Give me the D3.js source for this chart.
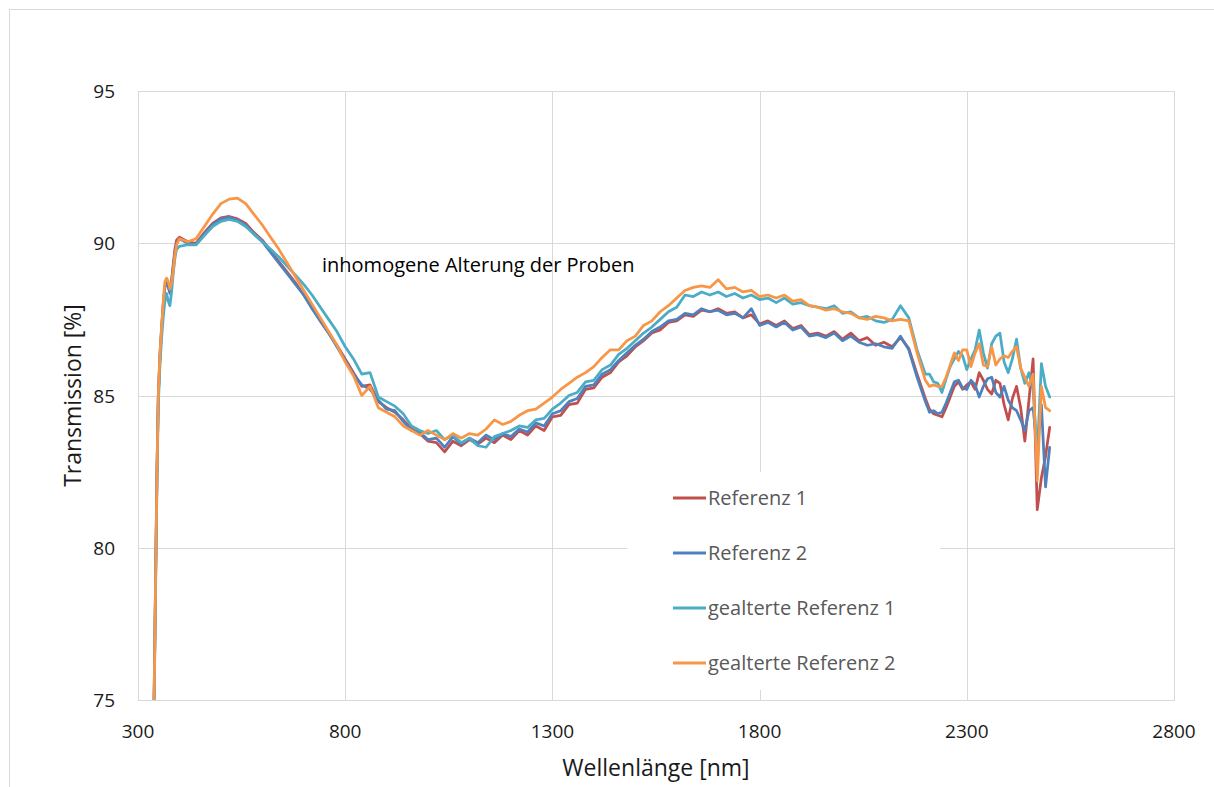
<!DOCTYPE html>
<html>
<head>
  <meta charset="utf-8">
  <script src="https://d3js.org/d3.v7.min.js"></script>
  <style type="text/css">
    body { margin: 0; background: #fff; }
    svg { font-family: "Open Sans", "Noto Sans", sans-serif; }
    .grid line { stroke: #d9d9d9; stroke-width: 1; }
    .tick-label { font-size: 19px; fill: #1a1a1a; }
    .axis-title { font-size: 23px; fill: #1a1a1a; }
    .legend-text { font-size: 20px; fill: #595959; }
  </style>
</head>
<body>
<svg id="chart" width="1214" height="787"></svg>

<script type="text/javascript">
// wavelengths [nm], shared by all four series
const wlStart = [338, 340, 343, 346, 349, 353, 357, 361, 365, 369, 373, 377, 381, 385, 389, 393];
const wlMain = [400, 420, 440, 460, 480, 500, 520, 540, 560, 580, 600, 620, 640, 660, 680, 700, 720, 740, 760, 780,
  800, 820, 840, 860, 880, 900, 920, 940, 960, 980, 1000, 1020, 1040, 1060, 1080, 1100, 1120, 1140, 1160, 1180,
  1200, 1220, 1240, 1260, 1280, 1300, 1320, 1340, 1360, 1380, 1400, 1420, 1440, 1460, 1480, 1500, 1520, 1540, 1560, 1580,
  1600, 1620, 1640, 1660, 1680, 1700, 1720, 1740, 1760, 1780, 1800, 1820, 1840, 1860, 1880, 1900, 1920, 1940, 1960, 1980,
  2000, 2020, 2040, 2060, 2080, 2100, 2120, 2140, 2160, 2180, 2200];
const wlTail = [2210, 2220, 2230, 2240, 2250, 2260, 2270, 2280, 2290, 2300, 2310, 2320, 2330, 2340, 2350,
  2360, 2370, 2380, 2390, 2400, 2410, 2420, 2430, 2440, 2450, 2460, 2470, 2480, 2490, 2500];
const wavelengths = wlStart.concat(wlMain, wlTail);

const referenz1 = [
  74.2, 76.3, 79.6, 82.7, 85.0, 86.3, 87.2, 88.0, 88.6, 88.7, 88.6, 88.4, 88.8, 89.3, 89.8, 90.1,
  90.2, 90.05, 90.0, 90.35, 90.65, 90.83, 90.88, 90.8, 90.65, 90.35, 90.1, 89.75, 89.4, 89.05, 88.7, 88.3, 87.9, 87.45, 87.05, 86.65,
  86.2, 85.75, 85.3, 85.35, 84.8, 84.6, 84.45, 84.2, 83.9, 83.75, 83.5, 83.45, 83.15, 83.5, 83.35, 83.55, 83.4, 83.6, 83.45, 83.7,
  83.55, 83.85, 83.7, 84.0, 83.85, 84.3, 84.35, 84.7, 84.75, 85.2, 85.25, 85.6, 85.75, 86.1, 86.3, 86.6, 86.8, 87.05, 87.15, 87.4,
  87.45, 87.65, 87.6, 87.8, 87.75, 87.85, 87.7, 87.75, 87.55, 87.65, 87.35, 87.45, 87.3, 87.45, 87.2, 87.3, 87.0, 87.05, 86.95, 87.1,
  86.85, 87.05, 86.8, 86.9, 86.65, 86.75, 86.6, 86.9, 86.55, 85.7, 84.9,
  84.55, 84.4, 84.35, 84.3, 84.6, 84.95, 85.3, 85.45, 85.2, 85.35, 85.45, 85.2, 85.75, 85.5, 85.2,
  85.05, 85.5, 85.4, 84.7, 84.2, 84.9, 85.3, 84.6, 83.5, 84.85, 86.2, 81.25, 82.3, 83.0, 83.95
];
const referenz2 = [
  74.2, 76.3, 79.6, 82.7, 85.0, 86.3, 87.2, 88.0, 88.6, 88.7, 88.55, 88.35, 88.7, 89.2, 89.7, 90.0,
  90.15, 90.0, 89.95, 90.3, 90.6, 90.8, 90.85, 90.75, 90.6, 90.3, 90.05, 89.7, 89.35, 89.0, 88.65, 88.3, 87.85, 87.45, 87.05, 86.6,
  86.15, 85.7, 85.35, 85.2, 84.85, 84.55, 84.5, 84.15, 83.85, 83.8, 83.55, 83.6, 83.3, 83.65, 83.4, 83.6, 83.45, 83.7, 83.55, 83.75,
  83.65, 83.9, 83.8, 84.1, 84.0, 84.4, 84.5, 84.8, 84.9, 85.3, 85.35, 85.7, 85.85, 86.15, 86.4, 86.65, 86.85, 87.1, 87.25, 87.45,
  87.5, 87.7, 87.65, 87.85, 87.75, 87.8, 87.65, 87.7, 87.55, 87.85, 87.3, 87.4, 87.25, 87.4, 87.15, 87.25, 86.95, 87.0, 86.9, 87.05,
  86.8, 86.95, 86.75, 86.65, 86.7, 86.6, 86.55, 86.95, 86.5, 85.6, 84.8,
  84.45, 84.5, 84.4, 84.45, 84.75, 85.1, 85.45, 85.5, 85.25, 85.2, 85.5, 85.35, 84.95, 85.3, 85.55,
  85.6, 85.1, 84.95, 85.3, 84.85, 84.6, 84.5, 84.2, 83.85, 84.5, 84.6, 83.2, 84.7, 82.0, 83.3
];
const gealterteReferenz1 = [
  74.0, 76.0, 79.2, 82.3, 84.7, 86.0, 86.9, 87.6, 88.1, 88.35, 88.1, 87.95, 88.4, 89.0, 89.5, 89.8,
  89.9, 89.95, 89.95, 90.25, 90.55, 90.72, 90.78, 90.72, 90.55, 90.3, 90.05, 89.8, 89.55, 89.25, 88.95, 88.65, 88.3, 87.9, 87.5, 87.1,
  86.6, 86.2, 85.7, 85.75, 84.95, 84.8, 84.65, 84.4, 84.0, 83.85, 83.75, 83.85, 83.55, 83.7, 83.45, 83.6, 83.35, 83.3, 83.65, 83.75,
  83.85, 84.0, 83.95, 84.2, 84.25, 84.55, 84.75, 85.0, 85.1, 85.45, 85.5, 85.85, 86.0, 86.35, 86.55, 86.8, 87.05, 87.25, 87.5, 87.75,
  87.9, 88.3, 88.25, 88.4, 88.3, 88.4, 88.25, 88.35, 88.2, 88.3, 88.15, 88.2, 88.05, 88.2, 88.0, 88.05, 87.95, 87.9, 87.85, 87.95,
  87.7, 87.75, 87.55, 87.6, 87.45, 87.4, 87.5, 87.95, 87.55, 86.5, 85.7,
  85.7, 85.45, 85.4, 85.1, 85.55, 85.95, 86.2, 86.45, 86.3, 85.85, 86.2, 86.5, 87.15, 86.4, 85.9,
  86.7, 86.95, 87.05, 86.1, 85.75, 86.2, 86.85, 85.9, 85.4, 85.75, 85.2, 83.0, 86.05, 85.3, 84.95
];
const gealterteReferenz2 = [
  74.2, 76.2, 79.5, 82.6, 85.0, 86.4, 87.3, 88.1, 88.75, 88.85, 88.75, 88.5, 88.7, 89.1, 89.6, 89.95,
  90.15, 90.05, 90.15, 90.55, 90.95, 91.3, 91.45, 91.48, 91.3, 90.95, 90.6, 90.2, 89.8, 89.35, 88.9, 88.45, 88.0, 87.55, 87.1, 86.65,
  86.1, 85.65, 85.0, 85.3, 84.6, 84.45, 84.3, 84.0, 83.85, 83.7, 83.85, 83.7, 83.55, 83.75, 83.6, 83.75, 83.7, 83.9, 84.2, 84.05,
  84.15, 84.35, 84.5, 84.55, 84.75, 84.95, 85.2, 85.4, 85.6, 85.75, 85.95, 86.25, 86.5, 86.5, 86.8, 86.95, 87.3, 87.45, 87.75, 87.95,
  88.2, 88.45, 88.55, 88.6, 88.55, 88.8, 88.5, 88.55, 88.4, 88.45, 88.25, 88.3, 88.2, 88.3, 88.1, 88.15, 87.95, 87.9, 87.8, 87.85,
  87.75, 87.7, 87.55, 87.5, 87.6, 87.55, 87.45, 87.5, 87.45, 86.4, 85.5,
  85.3, 85.35, 85.3, 85.3, 85.6, 86.0, 86.4, 86.15, 86.5, 86.5, 85.95, 86.4, 86.7, 86.0, 85.95,
  86.6, 86.0, 86.2, 86.3, 86.25, 86.45, 86.6, 85.9, 85.6, 85.3, 85.7, 82.2, 85.3, 84.6, 84.5
];

const seriesNames = ["Referenz 1", "Referenz 2", "gealterte Referenz 1", "gealterte Referenz 2"];
const seriesValues = [referenz1, referenz2, gealterteReferenz1, gealterteReferenz2];
const seriesColors = ["#C0504D", "#4F81BD", "#4BACC6", "#F79646"];
const xTicks = [300, 800, 1300, 1800, 2300, 2800];
const yTicks = [75, 80, 85, 90, 95];

const svg = d3.select('#chart');

// outer chart frame
svg.append('rect')
  .attr('x', 9.5).attr('y', 9.5)
  .attr('width', 1215).attr('height', 790)
  .attr('fill', '#fff').attr('stroke', '#d9d9d9');

const plot = {left: 138, top: 91, right: 1174, bottom: 700};

const x = d3.scaleLinear().domain([300, 2800]).range([plot.left, plot.right]);
const y = d3.scaleLinear().domain([75, 95]).range([plot.bottom, plot.top]);

// gridlines
const grid = svg.append('g').attr('class', 'grid');
grid.selectAll('.hg').data(yTicks).enter()
  .append('line')
  .attr('x1', plot.left).attr('x2', plot.right)
  .attr('y1', d => Math.round(y(d)) + 0.5).attr('y2', d => Math.round(y(d)) + 0.5);
grid.selectAll('.vg').data(xTicks).enter()
  .append('line')
  .attr('y1', plot.top).attr('y2', plot.bottom)
  .attr('x1', d => Math.round(x(d)) + 0.5).attr('x2', d => Math.round(x(d)) + 0.5);
grid.append('rect')
  .attr('x', plot.left + 0.5).attr('y', plot.top + 0.5)
  .attr('width', plot.right - plot.left).attr('height', plot.bottom - plot.top)
  .attr('fill', 'none').attr('stroke', '#d9d9d9');

// legend box (white background, sits over the gridlines)
const legendBox = {x: 627, y: 472, w: 313, h: 218};
svg.append('rect')
  .attr('x', legendBox.x).attr('y', legendBox.y)
  .attr('width', legendBox.w).attr('height', legendBox.h)
  .attr('fill', '#fff');

// clip series to the plot area
svg.append('clipPath').attr('id', 'plotclip')
  .append('rect')
  .attr('x', plot.left).attr('y', plot.top)
  .attr('width', plot.right - plot.left).attr('height', plot.bottom - plot.top);

const line = d3.line()
  .x(d => x(d[0]))
  .y(d => y(d[1]));

const lines = svg.append('g').attr('clip-path', 'url(#plotclip)');
seriesValues.forEach((vals, i) => {
  const pts = wavelengths.map((w, j) => [w, vals[j]]);
  lines.append('path')
    .datum(pts)
    .attr('d', line)
    .attr('fill', 'none')
    .attr('stroke', seriesColors[i])
    .attr('stroke-width', 2.75)
    .attr('stroke-linejoin', 'round')
    .attr('stroke-linecap', 'round');
});

// tick labels
svg.selectAll('.ylab').data(yTicks).enter()
  .append('text')
  .attr('class', 'tick-label')
  .attr('x', 115)
  .attr('y', d => y(d) + 7)
  .attr('text-anchor', 'end')
  .text(d => d);

svg.selectAll('.xlab').data(xTicks).enter()
  .append('text')
  .attr('class', 'tick-label')
  .attr('x', d => x(d))
  .attr('y', 738)
  .attr('text-anchor', 'middle')
  .text(d => d);

// axis titles
svg.append('text')
  .attr('class', 'axis-title')
  .attr('x', 656).attr('y', 776)
  .attr('text-anchor', 'middle')
  .text('Wellenlänge [nm]');

svg.append('text')
  .attr('class', 'axis-title')
  .attr('transform', 'translate(81,' + ((plot.top + plot.bottom) / 2) + ') rotate(-90)')
  .attr('text-anchor', 'middle')
  .text('Transmission [%]');

// annotation
svg.append('text')
  .attr('x', 322).attr('y', 272)
  .attr('font-size', 20)
  .attr('fill', '#000')
  .text('inhomogene Alterung der Proben');

// legend entries
const legend = svg.append('g');
seriesNames.forEach((name, i) => {
  const ly = 498 + i * 55;
  legend.append('line')
    .attr('x1', 673).attr('x2', 706)
    .attr('y1', ly).attr('y2', ly)
    .attr('stroke', seriesColors[i])
    .attr('stroke-width', 3);
  legend.append('text')
    .attr('class', 'legend-text')
    .attr('x', 708).attr('y', ly + 7)
    .text(name);
});
</script>
</html>
